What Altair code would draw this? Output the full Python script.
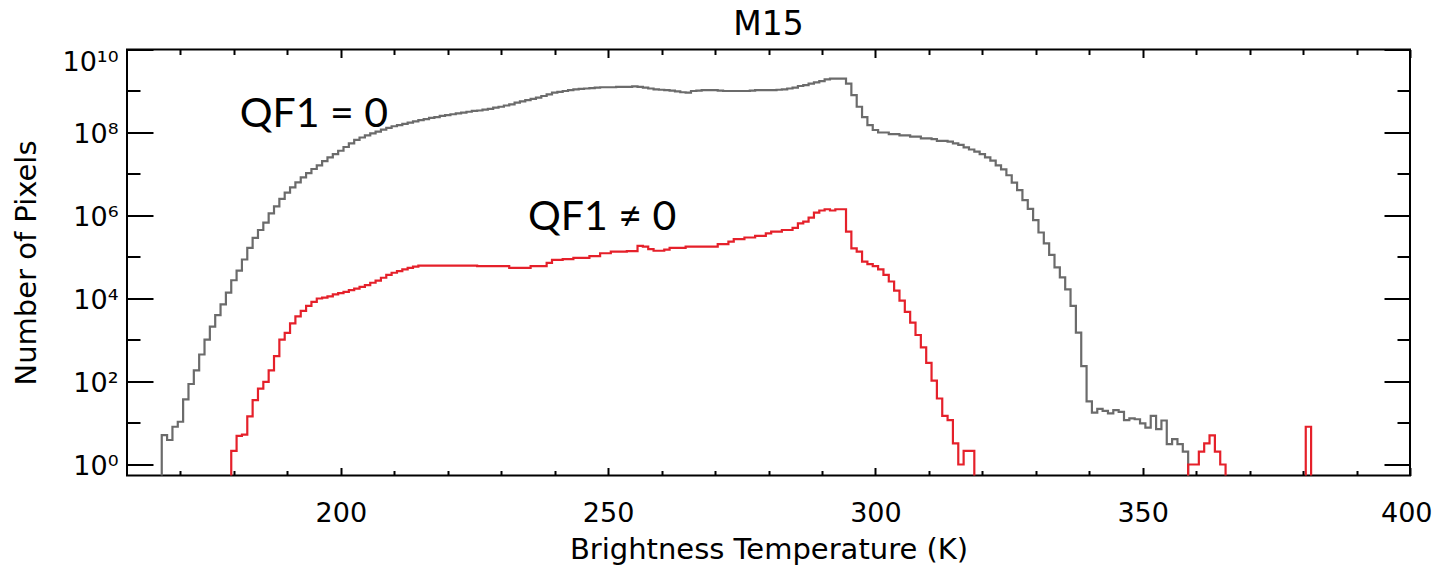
import altair as alt
import pandas as pd

# ---------------- data (1 K bins, log10 of pixel count) ----------------
GRAY_FIRST_K = 166
gray_log10 = [
    None, 0.71, 0.59, 0.91, 1.03, 1.57, 1.94, 2.27, 2.65, 3.01,          # 166-175
    3.32, 3.60, 3.86, 4.14, 4.44, 4.67, 4.94, 5.22, 5.46, 5.65,          # 176-185
    5.83, 6.05, 6.22, 6.40, 6.55, 6.68, 6.80, 6.92, 7.02, 7.12,          # 186-195
    7.21, 7.31, 7.40, 7.48, 7.56, 7.65, 7.74, 7.82, 7.88, 7.93,          # 196-205
    7.98, 8.02, 8.07, 8.11, 8.15, 8.18, 8.21, 8.24, 8.27, 8.30,          # 206-215
    8.32, 8.35, 8.37, 8.40, 8.42, 8.44, 8.46, 8.48, 8.50, 8.52,          # 216-225
    8.53, 8.55, 8.57, 8.60, 8.62, 8.65, 8.68, 8.72, 8.75, 8.78,          # 226-235
    8.81, 8.84, 8.88, 8.92, 8.96, 8.98, 9.00, 9.02, 9.04, 9.05,          # 236-245
    9.06, 9.07, 9.08, 9.09, 9.09, 9.09, 9.10, 9.10, 9.10, 9.11,          # 246-255
    9.10, 9.08, 9.06, 9.04, 9.03, 9.02, 9.01, 8.99, 8.97, 8.96,          # 256-265
    9.00, 9.01, 9.02, 9.02, 9.02, 9.01, 9.00, 9.00, 9.00, 9.00,          # 266-275
    9.00, 9.01, 9.02, 9.02, 9.02, 9.02, 9.03, 9.04, 9.06, 9.08,          # 276-285
    9.12, 9.14, 9.18, 9.21, 9.24, 9.28, 9.30, 9.30, 9.30, 9.18,          # 286-295
    8.90, 8.62, 8.37, 8.18, 8.06, 8.00, 8.00, 7.96, 7.96, 7.93,          # 296-305
    7.93, 7.90, 7.90, 7.86, 7.86, 7.84, 7.80, 7.80, 7.78, 7.74,          # 306-315
    7.70, 7.64, 7.59, 7.54, 7.48, 7.40, 7.32, 7.21, 7.11, 6.97,          # 316-325
    6.79, 6.61, 6.37, 6.16, 5.89, 5.59, 5.33, 5.05, 4.75, 4.51,          # 326-335
    4.22, 3.82, 3.18, 2.37, 1.52, 1.25, 1.34, 1.29, 1.23, 1.31,          # 336-345
    1.27, 1.07, 1.11, 1.09, 0.99, 0.89, 1.17, 0.85, 1.06, 0.49,          # 346-355
    0.61, 0.49, 0.31, None,                                              # 356-359
]

RED_FIRST_K = 179
red_log10 = (
    [None, 0.33, 0.69, 0.72, 1.16, 1.55, 1.83, 1.99, 2.27, 2.61,         # 179-188
     3.01, 3.17, 3.40, 3.57, 3.70, 3.82, 3.92, 4.00, 4.02, 4.05,         # 189-198
     4.10, 4.13, 4.16, 4.20, 4.24, 4.28, 4.32, 4.38, 4.43, 4.50,         # 199-208
     4.57, 4.62, 4.66, 4.70, 4.74, 4.77, 4.79, 4.79, 4.79, 4.79,         # 209-218
     4.79, 4.79, 4.79, 4.79, 4.79, 4.79, 4.79, 4.78, 4.78, 4.78,         # 219-228
     4.78, 4.78, 4.78, 4.74, 4.74, 4.74, 4.74, 4.78, 4.78, 4.78,         # 229-238
     4.86, 4.93, 4.93, 4.95, 4.95, 4.98, 4.98, 4.98, 5.02, 5.02,         # 239-248
     5.09, 5.09, 5.13, 5.13, 5.13, 5.14, 5.14, 5.27, 5.25, 5.19,         # 249-258
     5.15, 5.15, 5.18, 5.22, 5.22, 5.22, 5.25, 5.25, 5.25, 5.25,         # 259-268
     5.25, 5.25, 5.31, 5.31, 5.37, 5.43, 5.43, 5.47, 5.47, 5.51,         # 269-278
     5.51, 5.57, 5.61, 5.61, 5.65, 5.65, 5.70, 5.81, 5.85, 5.95,         # 279-288
     6.07, 6.12, 6.15, 6.12, 6.15, 6.15, 5.61, 5.21, 5.13, 4.89,         # 289-298
     4.83, 4.78, 4.70, 4.57, 4.41, 4.19, 3.95, 3.68, 3.42, 3.12,         # 299-308
     2.82, 2.45, 2.02, 1.59, 1.17, 1.07, 0.51, 0.00, 0.33, 0.33]         # 309-318
    + [None] * 40                                                        # 319-358 empty bins
    + [0.00, 0.00, 0.31, 0.51, 0.70, 0.31, 0.00]                         # 359-365
    + [None] * 15                                                        # 366-380 empty bins
    + [0.91, None]                                                       # 381-382
)

ann_text = ["QF1 = 0", "QF1 \u2260 0"]
ann_T = [181.1, 235.0]
ann_N = [1.36e8, 4.5e5]

x_major = [200, 250, 300, 350, 400]
x_minor = [170, 180, 190, 210, 220, 230, 240, 260, 270, 280, 290,
           310, 320, 330, 340, 360, 370, 380, 390]
y_major = [1, 1e2, 1e4, 1e6, 1e8, 1e10]
y_minor = [1e1, 1e3, 1e5, 1e7, 1e9]
y_exponents = ["\u2070", "\u00b2", "\u2074", "\u2076", "\u2078", "\u00b9\u2070"]

EMPTY = 0.1  # empty bins are drawn below the axis floor (clipped away)


def frame(first, logs):
    return pd.DataFrame({
        "T": [first + i for i in range(len(logs))],
        "N": [EMPTY if e is None else 10 ** e for e in logs],
    })


gray_df = frame(GRAY_FIRST_K, gray_log10)
red_df = frame(RED_FIRST_K, red_log10)
ann_df = pd.DataFrame({"label": ann_text, "T": ann_T, "N": ann_N})

# ---------------- scales / axes ----------------
FONT = "DejaVu Sans"
xs = alt.Scale(domain=[160, 400], nice=False, zero=False)
ys = alt.Scale(type="log", domain=[0.543, 1e10], nice=False)

label_expr = " : ".join(
    f"datum.value < {v * 5:g} ? '10{s}'" for v, s in zip(y_major[:-1], y_exponents[:-1])
) + f" : '10{y_exponents[-1]}'"


def tick_axis(orient, values, size):
    return alt.Axis(orient=orient, values=values, tickSize=size, offset=-size,
                    labels=False, domain=False, grid=False, ticks=True,
                    tickColor="black", tickWidth=2, title=None, zindex=1)


ax_bottom = alt.Axis(orient="bottom", values=x_major, format="d", ticks=False, tickSize=0,
                     domain=False, grid=False, labelFont=FONT, labelFontSize=27,
                     labelColor="black", labelPadding=46, labelBaseline="alphabetic",
                     labelFlush=True, labelFlushOffset=22, labelOverlap=False,
                     title="Brightness Temperature (K)", titleFont=FONT, titleFontSize=29,
                     titleFontWeight="normal", titleColor="black",
                     titleBaseline="alphabetic", titleY=82.5)
ax_left = alt.Axis(orient="left", values=y_major[:-1], labelExpr=label_expr, ticks=False,
                   tickSize=0, domain=False, grid=False, labelFont=FONT, labelFontSize=27,
                   labelColor="black", labelPadding=9, labelBaseline="alphabetic",
                   labelOffset=10, labelFlush=False, labelOverlap=False,
                   title="Number of Pixels", titleFont=FONT, titleFontSize=29,
                   titleFontWeight="normal", titleColor="black", titleAngle=270,
                   titleBaseline="alphabetic", titleX=-92, titleY=213)
ax_left_top = alt.Axis(orient="left", values=y_major[-1:], labelExpr=label_expr, ticks=False,
                       tickSize=0, domain=False, grid=False, labelFont=FONT, labelFontSize=27,
                       labelColor="black", labelPadding=9, labelBaseline="alphabetic",
                       labelOffset=20.5, labelFlush=False, labelOverlap=False, title=None)

base_gray = alt.Chart(gray_df)
gray = base_gray.mark_line(interpolate="step", color="#6b6b6b", strokeWidth=2.2, clip=True).encode(
    x=alt.X("T:Q", scale=xs, axis=ax_bottom),
    y=alt.Y("N:Q", scale=ys, axis=ax_left),
)
red = alt.Chart(red_df).mark_line(interpolate="step", color="#e5202a", strokeWidth=2.2, clip=True).encode(
    x=alt.X("T:Q", scale=xs, axis=tick_axis("bottom", x_major, 8)),
    y=alt.Y("N:Q", scale=ys, axis=tick_axis("left", y_major, 26)),
)
ann = alt.Chart(ann_df).mark_text(font="Lato", fontSize=41, align="left",
                                  baseline="alphabetic", color="black").encode(
    x=alt.X("T:Q", scale=xs, axis=tick_axis("bottom", x_minor, 5)),
    y=alt.Y("N:Q", scale=ys, axis=tick_axis("left", y_minor, 13)),
    text="label:N",
)
inv1 = base_gray.mark_line(strokeOpacity=0, clip=True).encode(
    x=alt.X("T:Q", scale=xs, axis=tick_axis("top", x_major, 8)),
    y=alt.Y("N:Q", scale=ys, axis=tick_axis("right", y_major, 26)),
)
inv2 = base_gray.mark_line(strokeOpacity=0, clip=True).encode(
    x=alt.X("T:Q", scale=xs, axis=tick_axis("top", x_minor, 5)),
    y=alt.Y("N:Q", scale=ys, axis=tick_axis("right", y_minor, 13)),
)
inv3 = base_gray.mark_line(strokeOpacity=0, clip=True).encode(
    x=alt.X("T:Q", scale=xs, axis=None),
    y=alt.Y("N:Q", scale=ys, axis=ax_left_top),
)

chart = (
    alt.layer(gray, red, ann, inv1, inv2, inv3)
    .resolve_axis(x="independent", y="independent")
    .properties(
        width=1283, height=426,
        title=alt.TitleParams("M15", font=FONT, fontSize=33, fontWeight="normal",
                              color="black", anchor="middle", frame="group", offset=6.5),
        autosize=alt.AutoSizeParams(type="none"),
        padding={"left": 119, "top": 41.5, "right": 23, "bottom": 90},
        background="white",
    )
    .configure_view(stroke="black", strokeWidth=2)
)

chart.save("out.html", embed_options={"renderer": "svg", "actions": False})
